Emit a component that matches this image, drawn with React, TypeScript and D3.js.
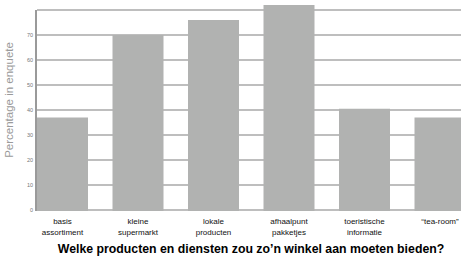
import * as d3 from "d3";
import React from "react";

const categories = [
  ["basis", "assortiment"],
  ["kleine", "supermarkt"],
  ["lokale", "producten"],
  ["afhaalpunt", "pakketjes"],
  ["toeristische", "informatie"],
  ["“tea-room”"],
];
const values = [37, 70, 76, 82, 40.5, 37];
const ticks = [0, 10, 20, 30, 40, 50, 60, 70];
const gridLines = [0, 10, 20, 30, 40, 50, 60, 70, 80];

export default function App() {
  const ref = React.useRef<SVGSVGElement>(null);

  React.useEffect(() => {
    const svg = d3.select(ref.current);
    svg.selectAll("*").remove();

    const left = 37;
    const y = d3.scaleLinear().domain([0, 80]).range([210, 10]);
    const x = d3
      .scaleBand<number>()
      .domain(d3.range(categories.length))
      .range([left, left + 428.5])
      .paddingInner(0.3245)
      .paddingOuter(0);

    // gridlines
    svg
      .append("g")
      .selectAll("line")
      .data(gridLines)
      .enter()
      .append("line")
      .attr("x1", left)
      .attr("x2", 461)
      .attr("y1", (d) => y(d))
      .attr("y2", (d) => y(d))
      .attr("stroke", "#a9a9a9")
      .attr("stroke-width", 1.3);

    // bars
    svg
      .append("g")
      .selectAll("rect")
      .data(values)
      .enter()
      .append("rect")
      .attr("x", (d, i) => x(i)!)
      .attr("width", x.bandwidth())
      .attr("y", (d) => y(d))
      .attr("height", (d) => y(0) - y(d) + 1)
      .attr("fill", "#b1b2b1");

    // y axis line
    svg
      .append("line")
      .attr("x1", 36)
      .attr("x2", 36)
      .attr("y1", y(80))
      .attr("y2", y(0) + 1)
      .attr("stroke", "#9a9a9a")
      .attr("stroke-width", 2);

    // tick labels
    svg
      .append("g")
      .selectAll("text")
      .data(ticks)
      .enter()
      .append("text")
      .attr("x", 33)
      .attr("y", (d) => y(d) + 2)
      .attr("text-anchor", "end")
      .style("font-family", "Liberation Sans, Arial, sans-serif")
      .style("font-size", "5.5px")
      .attr("fill", "#777")
      .text((d) => d);

    // category labels
    const lab = svg
      .append("g")
      .selectAll("text")
      .data(categories)
      .enter()
      .append("text")
      .attr("x", (d, i) => x(i)! + x.bandwidth() / 2)
      .attr("y", 224)
      .attr("text-anchor", "middle")
      .style("font-family", "Liberation Sans, Arial, sans-serif")
      .style("font-size", "8px")
      .attr("fill", "#111");
    lab
      .selectAll("tspan")
      .data((d) => d)
      .enter()
      .append("tspan")
      .attr("x", function () {
        return (this.parentNode as SVGTextElement).getAttribute("x");
      })
      .attr("dy", (d, i) => (i === 0 ? 0 : 11))
      .text((d) => d);

    // y axis title
    svg
      .append("text")
      .attr("transform", "translate(13, 100) rotate(-90)")
      .attr("text-anchor", "middle")
      .style("font-family", "Liberation Sans, Arial, sans-serif")
      .style("font-size", "11.5px")
      .attr("fill", "#9a9a9a")
      .text("Percentage in enquete");

    // x axis title
    svg
      .append("text")
      .attr("x", 251)
      .attr("y", 252.5)
      .attr("text-anchor", "middle")
      .style("font-family", "Liberation Sans, Arial, sans-serif")
      .style("font-size", "12.3px")
      .style("font-weight", "bold")
      .attr("fill", "#000")
      .text("Welke producten en diensten zou zo’n winkel aan moeten bieden?");
  }, []);

  return (
    <svg
      ref={ref}
      width={461}
      height={258}
      style={{ position: "absolute", left: 0, top: 0, background: "#fff" }}
    />
  );
}
